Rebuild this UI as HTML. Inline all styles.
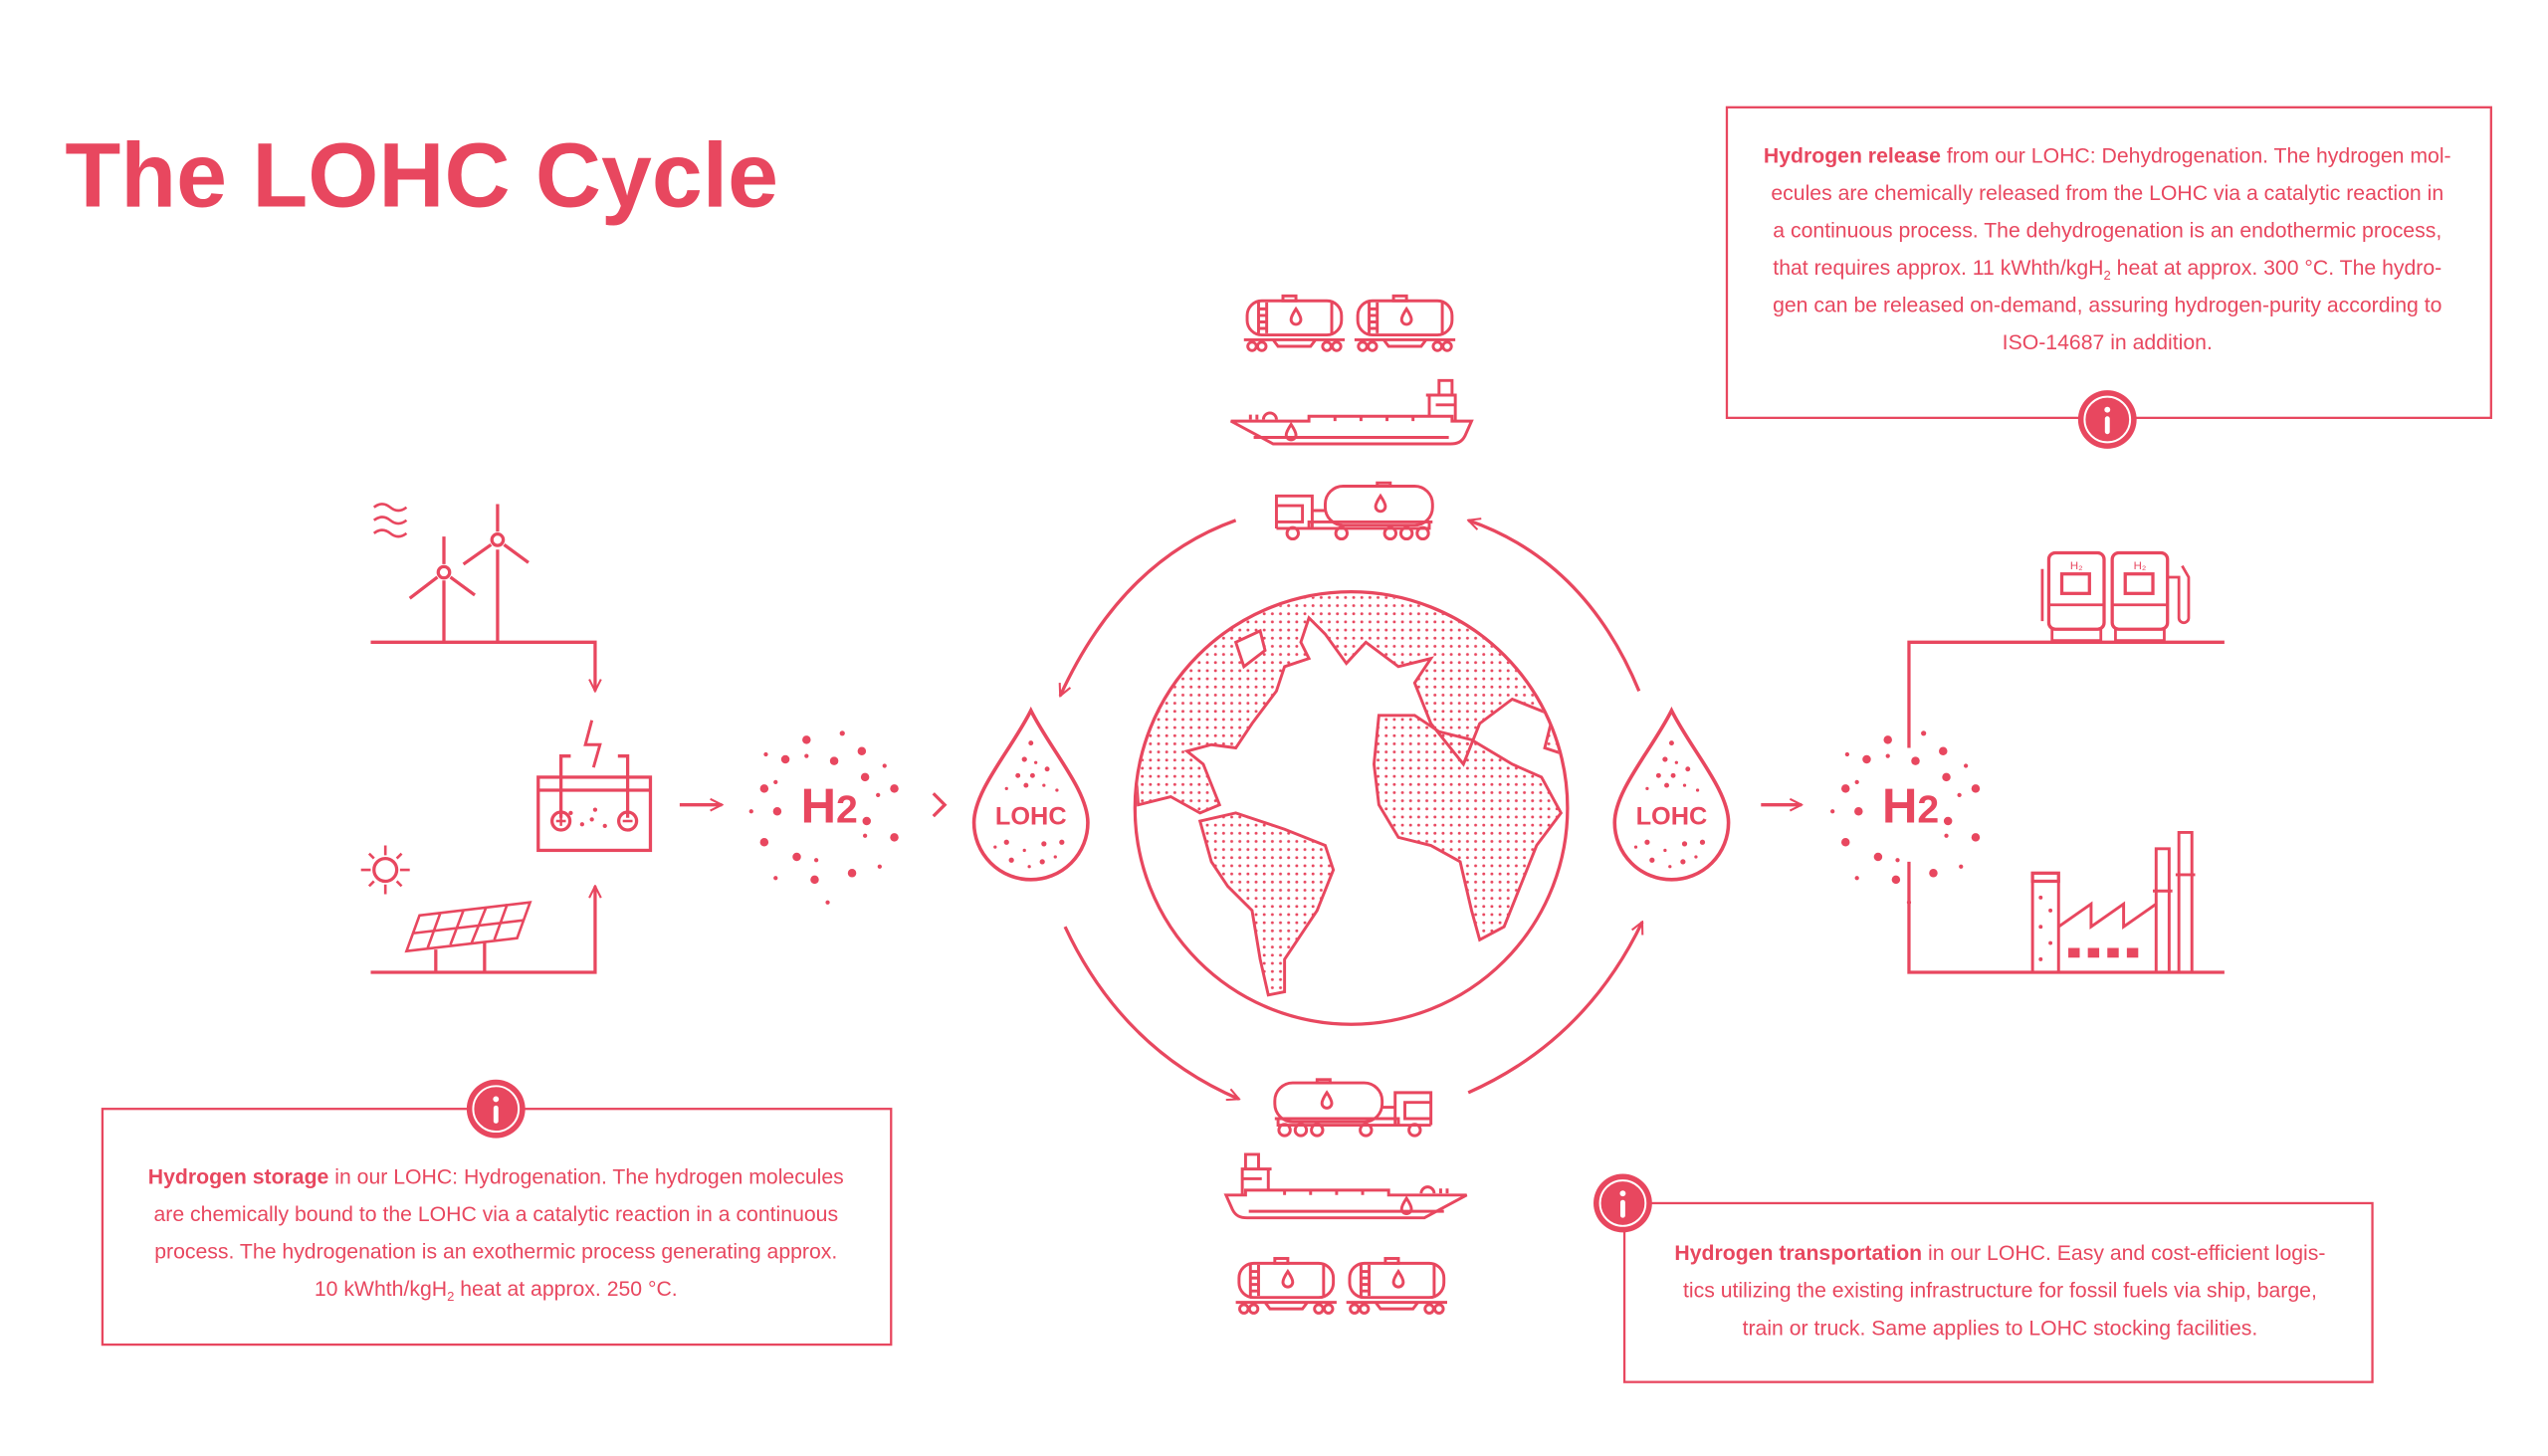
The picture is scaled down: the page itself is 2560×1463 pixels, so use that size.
<!DOCTYPE html>
<html><head><meta charset="utf-8"><style>
html,body{margin:0;padding:0;background:#fff;}
svg{display:block}
text{font-family:"Liberation Sans",sans-serif;fill:#e8475f}
</style></head><body>
<svg width="2560" height="1463" viewBox="0 0 1567 895.5" preserveAspectRatio="none" xmlns="http://www.w3.org/2000/svg">
<defs>
<pattern id="dt" width="5" height="5" patternUnits="userSpaceOnUse"><circle cx="2.5" cy="2.5" r="0.9" fill="#e8475f"/></pattern>
<clipPath id="gc"><circle cx="831" cy="497" r="132"/></clipPath>
<marker id="ah" viewBox="0 0 10 10" refX="9" refY="5" markerWidth="9" markerHeight="9" orient="auto-start-reverse" markerUnits="userSpaceOnUse"><path d="M1,1 L9,5 L1,9" fill="none" stroke="#e8475f" stroke-width="1.4"/></marker>
<g id="car" fill="none" stroke="#e8475f" stroke-width="1.8">
<rect x="2" y="3" width="58" height="21" rx="9"/><rect x="24" y="0" width="8" height="3"/>
<path d="M9 4v19M14 4v19M9 8h5M9 12h5M9 16h5M9 20h5M54 4v19"/>
<path d="M0 27h62M18 27l3 4h20l3-4"/>
<circle cx="5" cy="31" r="2.6"/><circle cx="11" cy="31" r="2.6"/><circle cx="51" cy="31" r="2.6"/><circle cx="57" cy="31" r="2.6"/>
<path d="M32 8c-2 3-3 5-3 6.5a3 3 0 0 0 6 0c0-1.5-1-3.5-3-6.5z"/>
</g>
<g id="ship" fill="none" stroke="#e8475f" stroke-width="1.8">
<path d="M0 27h48v-3h88v3h12l-4 9c-2 4-5 5-9 5H26z"/>
<path d="M14 37h120"/>
<path d="M12 26v-3M16 26v-3M20 26a4 4 0 0 1 8 0"/>
<path d="M64 24v3M80 24v3M96 24v3M112 24v3"/>
<path d="M122 24V11h16v16M120 11h12M128 11V2h8v9M126 17h12"/>
<path d="M37 29c-2 3-3 5-3 6.5a3 3 0 0 0 6 0c0-1.5-1-3.5-3-6.5z"/>
</g>
<g id="truck" fill="none" stroke="#e8475f" stroke-width="1.8">
<path d="M0 28V8h22v20M0 14h16v10H0M22 17h8"/>
<rect x="30" y="2" width="66" height="24" rx="11"/><rect x="62" y="0" width="8" height="2"/>
<path d="M0 28h94v-4M20 28v-4h76"/>
<circle cx="10" cy="31" r="3.5"/><circle cx="40" cy="31" r="3.5"/><circle cx="70" cy="31" r="3.5"/><circle cx="80" cy="31" r="3.5"/><circle cx="90" cy="31" r="3.5"/>
<path d="M64 8c-2 3-3 5-3 6.5a3 3 0 0 0 6 0c0-1.5-1-3.5-3-6.5z"/>
</g>
<g id="info"><circle r="18" fill="#e8475f"/><circle r="14" fill="none" stroke="#fff" stroke-width="1.2"/><circle cx="0" cy="-6" r="1.8" fill="#fff"/><rect x="-1.5" y="-2" width="3" height="11" rx="1.5" fill="#fff"/></g>
<g id="drop"><path d="M0 -54 C-12 -30 -35 -5 -35 15 A35 35 0 0 0 35 15 C35 -5 12 -30 0 -54Z" fill="none" stroke="#e8475f" stroke-width="2.2"/>
<g fill="#e8475f"><circle cx="0" cy="-34" r="1.5"/><circle cx="-4" cy="-24" r="1.6"/><circle cx="3" cy="-22" r="1"/><circle cx="-8" cy="-14" r="1.5"/><circle cx="1" cy="-14" r="1.5"/><circle cx="10" cy="-18" r="1.5"/><circle cx="-15" cy="-6" r="1"/><circle cx="-3" cy="-8" r="1.5"/><circle cx="8" cy="-8" r="1"/><circle cx="16" cy="-5" r="1"/><circle cx="-22" cy="30" r="1"/><circle cx="-15" cy="27" r="1.6"/><circle cx="-4" cy="32" r="1"/><circle cx="8" cy="28" r="1.6"/><circle cx="19" cy="27" r="1.6"/><circle cx="-12" cy="38" r="1.6"/><circle cx="-1" cy="42" r="1"/><circle cx="7" cy="39" r="1.6"/><circle cx="15" cy="36" r="1"/></g>
<text x="0" y="16" text-anchor="middle" font-size="15.5" font-weight="bold">LOHC</text></g>
<g id="h2" fill="#e8475f">
<text x="0" y="11" text-anchor="middle" font-size="30" font-weight="bold">H<tspan font-size="24">2</tspan></text>
<circle cx="-14" cy="-40" r="2.6"/><circle cx="8" cy="-44" r="1.6"/><circle cx="20" cy="-33" r="2.6"/><circle cx="-27" cy="-28" r="2.6"/><circle cx="-39" cy="-31" r="1.3"/><circle cx="-14" cy="-30" r="1.3"/><circle cx="3" cy="-27" r="2.6"/><circle cx="22" cy="-17" r="2.6"/><circle cx="34" cy="-24" r="1.3"/><circle cx="-40" cy="-10" r="2.6"/><circle cx="-33" cy="-14" r="1.3"/><circle cx="-32" cy="4" r="2.6"/><circle cx="-48" cy="4" r="1.3"/><circle cx="30" cy="-6" r="1.3"/><circle cx="40" cy="-10" r="2.6"/><circle cx="23" cy="10" r="2.6"/><circle cx="22" cy="19" r="1.3"/><circle cx="40" cy="20" r="2.6"/><circle cx="-40" cy="23" r="2.6"/><circle cx="-20" cy="32" r="2.6"/><circle cx="-8" cy="34" r="1.3"/><circle cx="-33" cy="45" r="1.3"/><circle cx="-9" cy="46" r="2.6"/><circle cx="14" cy="42" r="2.6"/><circle cx="31" cy="38" r="1.3"/><circle cx="-1" cy="60" r="1.3"/></g>
</defs>

<text x="40" y="127" font-size="56" font-weight="bold">The LOHC Cycle</text>

<!-- top-right box -->
<rect x="1062" y="66" width="470" height="191" fill="none" stroke="#e8475f" stroke-width="1.4"/>
<g font-size="13" text-anchor="middle">
<text x="1296" y="100"><tspan font-weight="bold">Hydrogen release</tspan> from our LOHC: Dehydrogenation. The hydrogen mol-</text>
<text x="1296" y="123">ecules are chemically released from the LOHC via a catalytic reaction in</text>
<text x="1296" y="146">a continuous process. The dehydrogenation is an endothermic process,</text>
<text x="1296" y="169">that requires approx. 11 kWhth/kgH<tspan font-size="8" dy="3">2</tspan><tspan dy="-3"> heat at approx. 300 °C. The hydro-</tspan></text>
<text x="1296" y="192">gen can be released on-demand, assuring hydrogen-purity according to</text>
<text x="1296" y="215">ISO-14687 in addition.</text>
</g>
<use href="#info" x="1296" y="258"/>

<!-- bottom-left box -->
<rect x="63" y="682" width="485" height="145" fill="none" stroke="#e8475f" stroke-width="1.4"/>
<use href="#info" x="305" y="682"/>
<g font-size="13" text-anchor="middle">
<text x="305" y="728"><tspan font-weight="bold">Hydrogen storage</tspan> in our LOHC: Hydrogenation. The hydrogen molecules</text>
<text x="305" y="751">are chemically bound to the LOHC via a catalytic reaction in a continuous</text>
<text x="305" y="774">process. The hydrogenation is an exothermic process generating approx.</text>
<text x="305" y="797">10 kWhth/kgH<tspan font-size="8" dy="3">2</tspan><tspan dy="-3"> heat at approx. 250 °C.</tspan></text>
</g>

<!-- bottom-right box -->
<rect x="999" y="740" width="460" height="110" fill="none" stroke="#e8475f" stroke-width="1.4"/>
<use href="#info" x="998" y="740"/>
<g font-size="13" text-anchor="middle">
<text x="1230" y="775"><tspan font-weight="bold">Hydrogen transportation</tspan> in our LOHC. Easy and cost-efficient logis-</text>
<text x="1230" y="798">tics utilizing the existing infrastructure for fossil fuels via ship, barge,</text>
<text x="1230" y="821">train or truck. Same applies to LOHC stocking facilities.</text>
</g>

<g fill="none" stroke="#e8475f" stroke-width="2">
<!-- globe -->
<circle cx="831" cy="497" r="133"/>
<g clip-path="url(#gc)" fill="url(#dt)" stroke-width="1.8">
<path d="M690 360 H980 V470 L950 460 L955 440 L930 430 L910 445 L900 470 L880 445 L870 420 L880 405 L860 410 L840 395 L828 408 L815 390 L805 380 L800 395 L805 405 L790 410 L785 425 L770 445 L760 460 L745 458 L730 462 L740 470 L750 495 L738 500 L720 490 L700 495 Z"/>
<path d="M760 395 L775 388 L778 400 L765 410 Z" fill="#fff"/>
<path d="M848 440 L870 440 L885 450 L905 455 L930 470 L948 478 L960 500 L945 520 L935 545 L925 570 L910 578 L905 560 L898 530 L880 520 L860 515 L848 495 L845 470 Z"/>
<path d="M738 505 L760 500 L790 510 L815 520 L820 535 L810 560 L800 575 L790 590 L790 610 L780 612 L775 590 L770 560 L755 545 L745 530 Z"/>
</g>
<!-- cycle arcs -->
<path d="M760 320 Q690 345 652 428" marker-end="url(#ah)"/>
<path d="M1008 425 Q975 345 903 320" marker-end="url(#ah)"/>
<path d="M655 570 Q690 645 762 676" marker-end="url(#ah)"/>
<path d="M903 672 Q975 640 1010 567" marker-end="url(#ah)"/>
<!-- flow arrows -->
<path d="M418 495 H444" marker-end="url(#ah)"/>
<path d="M574 488 L581 495 L574 502"/>
<path d="M1083 495 H1108" marker-end="url(#ah)"/>
<!-- wind -->
<path d="M228 395 H366 V425" marker-end="url(#ah)"/>
<path d="M273 395 V357 M306 395 V338 M273 330 V347 M306 310 V327"/>
<circle cx="273" cy="352" r="3.5"/><circle cx="306" cy="332" r="3.5"/>
<path d="M269 355 L252 368 M277 355 L292 366 M302 335 L285 347 M310 335 L325 346"/>
<path d="M230 312 q5 -4 10 0 q5 4 10 0 M230 320 q5 -4 10 0 q5 4 10 0 M230 328 q5 -4 10 0 q5 4 10 0" stroke-width="1.6"/>
<!-- solar -->
<path d="M228 598 H366 V545" marker-end="url(#ah)"/>
<circle cx="237" cy="535" r="7"/>
<path d="M237 520v6M237 544v6M222 535h6M246 535h6M227 525l3 3M244 542l3 3M247 525l-3 3M230 542l-3 3" stroke-width="1.6"/>
<path d="M258 563 L326 555 L318 577 L250 585 Z M271 561 L263 583 M285 560 L277 581 M299 558 L290 580 M312 556 L304 578 M254 574 L322 566" stroke-width="1.6"/>
<path d="M268 584 V598 M298 580 V598"/>
<!-- battery -->
<rect x="331" y="478" width="69" height="45"/>
<path d="M331 486 H400 M351 465 H345 V503 M380 465 H386 V503"/>
<path d="M364 443 L360 458 H369 L365 472" stroke-width="1.8"/>
<circle cx="345" cy="505" r="5.5"/><circle cx="386" cy="505" r="5.5"/>
<path d="M342 505h6M345 502v6M383 505h6" stroke-width="1.5"/>
<!-- right lines -->
<path d="M1174 460 V395 H1368 M1174 530 V598 H1368"/>
<!-- pumps -->
<rect x="1260" y="340" width="34" height="47" rx="4"/><rect x="1299" y="340" width="34" height="47" rx="4"/>
<rect x="1268" y="353" width="17" height="12"/><rect x="1307" y="353" width="17" height="12"/>
<path d="M1262 387 V394 H1292 V387 M1301 387 V394 H1331 V387 M1260 372 H1294 M1299 372 H1333 M1256 350 V382 M1333 355 H1340 V380 A3 3 0 0 0 1346 380 V355 L1342 348" stroke-width="1.7"/>
<!-- factory -->
<path d="M1250 598 V542 H1266 V598 M1266 570 L1286 556 V570 L1306 556 V570 L1326 556 V598 M1326 598 V522 H1334 V598 M1340 598 V512 H1348 V598 M1324 548 H1336 M1338 538 H1350" stroke-width="1.8"/>
<rect x="1250" y="537" width="16" height="5"/>
<path d="M1272 586 h7 M1284 586 h7 M1296 586 h7 M1308 586 h7" stroke-width="6"/>
</g>
<g fill="#e8475f"><circle cx="1255" cy="552" r="1.2"/><circle cx="1261" cy="560" r="1.2"/><circle cx="1255" cy="570" r="1.2"/><circle cx="1261" cy="580" r="1.2"/><circle cx="1255" cy="590" r="1.2"/><circle cx="351" cy="500" r="1.3"/><circle cx="358" cy="507" r="1.3"/><circle cx="366" cy="498" r="1.3"/><circle cx="372" cy="508" r="1.3"/><circle cx="364" cy="504" r="1.3"/></g>
<text x="1277" y="350" font-size="7" text-anchor="middle">H₂</text>
<text x="1316" y="350" font-size="7" text-anchor="middle">H₂</text>

<use href="#h2" x="510" y="495"/>
<use href="#h2" x="1175" y="495"/>
<use href="#drop" x="634" y="491"/>
<use href="#drop" x="1028" y="491"/>

<!-- vehicles top -->
<use href="#car" x="765" y="182"/>
<use href="#car" x="833" y="182"/>
<use href="#ship" x="757" y="232"/>
<use href="#truck" x="785" y="297"/>
<!-- vehicles bottom -->
<use href="#truck" transform="translate(880 664) scale(-1 1)"/>
<use href="#ship" transform="translate(902 708) scale(-1 1)"/>
<use href="#car" x="760" y="774"/>
<use href="#car" x="828" y="774"/>
</svg>
</body></html>
